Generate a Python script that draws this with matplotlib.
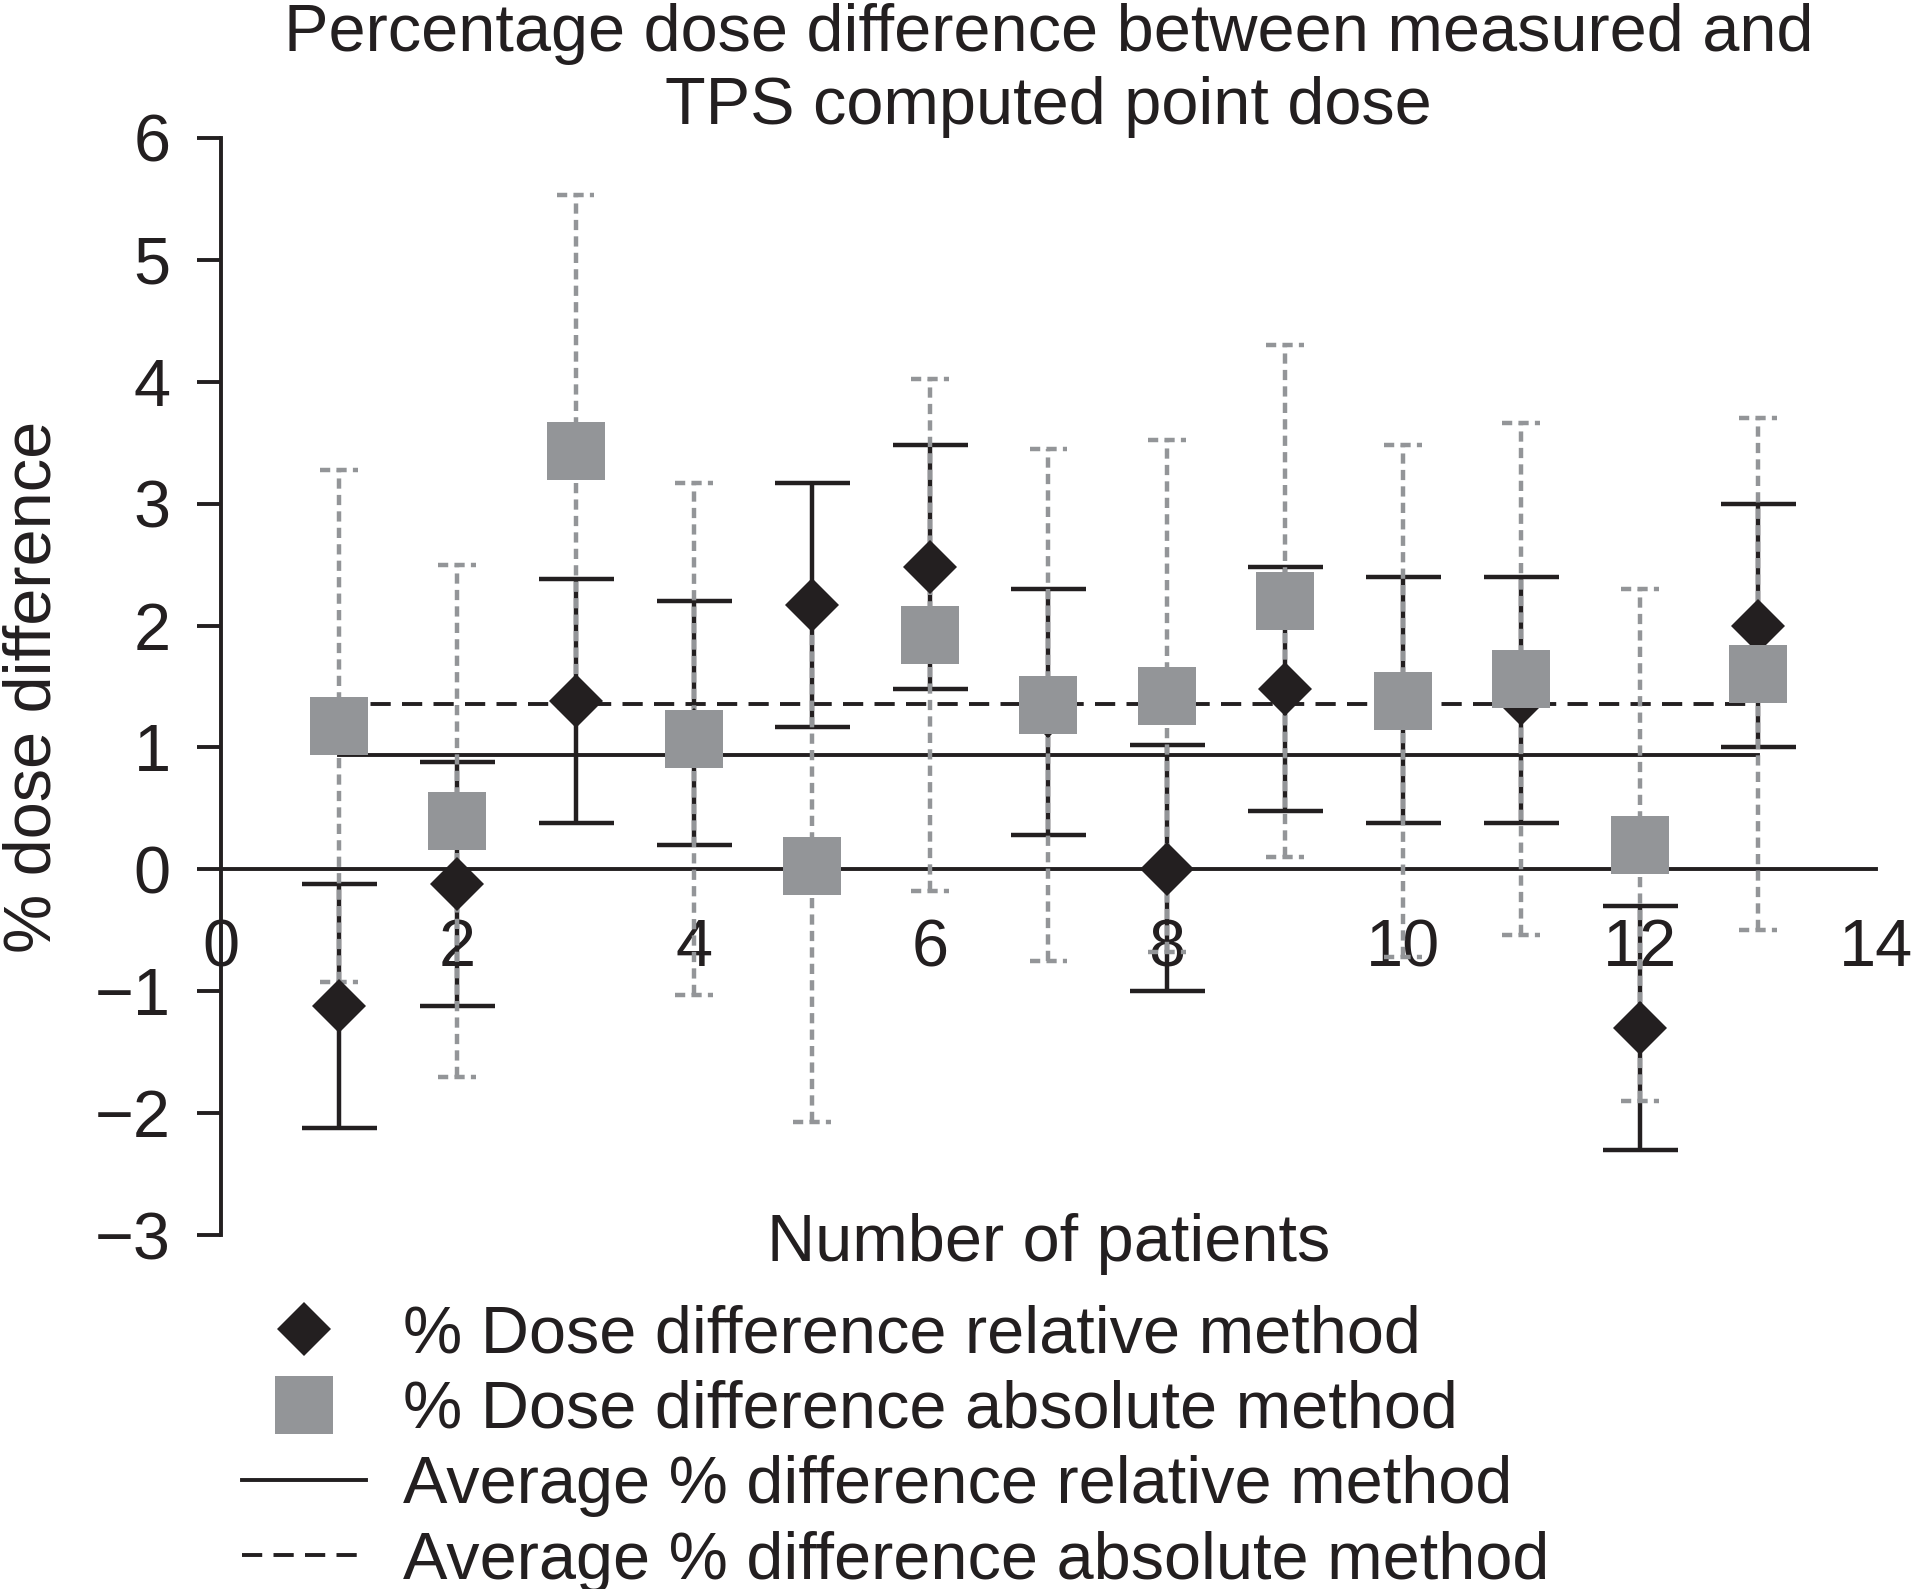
import matplotlib
matplotlib.use("Agg")
import matplotlib.pyplot as plt
from matplotlib.lines import Line2D

plt.rcParams['font.family'] = ['Liberation Sans', 'DejaVu Sans']

# hasta numaralari ve olculen degerler
patients = [1, 2, 3, 4, 5, 6, 7, 8, 9, 10, 11, 12, 13]
relative = [-1.12, -0.12, 1.38, 1.1, 2.17, 2.48, 1.3, 0.0, 1.48, 1.4, 1.4, -1.3, 2.0]
relative_err_lo = [1.0, 1.0, 1.0, 0.9, 1.0, 1.0, 1.02, 1.0, 1.0, 1.02, 1.02, 1.0, 1.0]
relative_err_hi = [1.0, 1.0, 1.0, 1.1, 1.0, 1.0, 1.0, 1.02, 1.0, 1.0, 1.0, 1.0, 1.0]
absolute = [1.18, 0.4, 3.43, 1.07, 0.03, 1.92, 1.35, 1.42, 2.2, 1.38, 1.56, 0.2, 1.6]
absolute_err = [2.1, 2.1, 2.1, 2.1, 2.1, 2.1, 2.1, 2.1, 2.1, 2.1, 2.1, 2.1, 2.1]
avg_relative = 0.94
avg_absolute = 1.36

black = "#231f20"
grey = "#939598"
fs = 48

fig = plt.figure(figsize=(19.14, 15.89), dpi=100)
ax = fig.add_axes([0.1154, 0.2227, 0.8648, 0.6905])

# goreli yontem hata cubuklari
ax.errorbar(patients, relative, yerr=[relative_err_lo, relative_err_hi], fmt="none",
            ecolor=black, elinewidth=3.2, capsize=27, capthick=3.2, zorder=2)

# mutlak yontem hata cubuklari (kesikli gri)
eb = ax.errorbar(patients, absolute, yerr=absolute_err, fmt="none", ecolor=grey,
                 elinewidth=3.2, capsize=0, zorder=3)
eb[2][0].set_linestyle((0, (2.3, 1.4)))
lo = [a - e for a, e in zip(absolute, absolute_err)]
hi = [a + e for a, e in zip(absolute, absolute_err)]
xl = [p - 0.16 for p in patients]
xr = [p + 0.16 for p in patients]
ax.hlines(lo + hi, xl + xl, xr + xr, colors=grey, linewidth=3.2,
          linestyles=(0, (2.3, 1.4)), zorder=3)

# ortalama cizgileri
ax.plot([patients[0], patients[-1]], [avg_relative, avg_relative], color=black,
        lw=2.8, zorder=1.5)
ax.plot([patients[0], patients[-1]], [avg_absolute, avg_absolute], color=black,
        lw=2.8, ls=(0, (5.2, 2.9)), zorder=1.5)

ax.plot(patients, relative, "D", color=black, ms=27, mew=0, zorder=4)
ax.plot(patients, absolute, "s", color=grey, ms=42, mew=0, zorder=5)

ax.set_xlim(0, 14)
ax.set_ylim(-3, 6)
ax.set_xticks(range(0, 15, 2))
ax.set_xticks([14], minor=True)
ax.set_yticks(range(-3, 7))
ax.spines['top'].set_visible(False)
ax.spines['right'].set_visible(False)
ax.spines['bottom'].set_position(('data', 0))
for s in ['left', 'bottom']:
    ax.spines[s].set_linewidth(2.8)
    ax.spines[s].set_color(black)
ax.tick_params(axis='x', which='major', length=0, pad=35, labelsize=fs, colors=black)
ax.tick_params(axis='x', which='minor', length=11, width=2.8, direction='out', color=black)
ax.tick_params(axis='y', length=17, width=2.8, pad=19, labelsize=fs, colors=black)

ax.set_title("Percentage dose difference between measured and\nTPS computed point dose",
             fontsize=fs, color=black, pad=8, linespacing=1.22)
ax.set_xlabel("Number of patients", fontsize=fs, color=black)
ax.xaxis.set_label_coords(0.5, 0.02)
ax.set_ylabel("% dose difference", fontsize=fs, color=black, va='center')
ax.yaxis.set_label_coords(-0.113, 0.5)

handles = [
    Line2D([], [], ls="none", marker="D", color=black, ms=28, mew=0),
    Line2D([], [], ls="none", marker="s", color=grey, ms=42, mew=0),
    Line2D([], [], color=black, lw=2.8),
    Line2D([], [], color=black, lw=2.8, ls=(0, (5.2, 2.9))),
]
labels = ["% Dose difference relative method",
          "% Dose difference absolute method",
          "Average % difference relative method",
          "Average % difference absolute method"]
fig.legend(handles, labels, loc="upper left", bbox_to_anchor=(0.1264, 0.179),
           frameon=False, fontsize=fs, handlelength=1.86, handletextpad=0.55,
           labelspacing=0.2, borderpad=0, borderaxespad=0, labelcolor=black)

fig.savefig("out.png", dpi=100)
